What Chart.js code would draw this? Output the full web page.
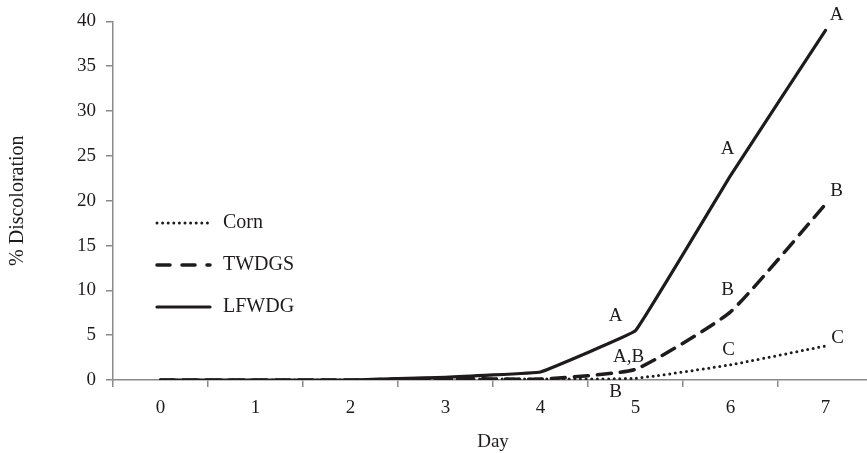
<!DOCTYPE html>
<html>
<head>
<meta charset="utf-8">
<script src="https://cdn.jsdelivr.net/npm/chart.js@4/dist/chart.umd.min.js"></script>
<style>
  html, body { margin: 0; padding: 0; background: #fff; overflow: hidden; }
  #wrap { width: 873px; height: 453px; position: relative; }
</style>
</head>
<body>
<div id="wrap"><canvas id="chart"></canvas></div>
<script>
// data
const days = ['0', '1', '2', '3', '4', '5', '6', '7'];
const corn = [0, 0, 0, 0.1, 0.1, 0.2, 1.7, 3.8];
const twdgs = [0, 0, 0, 0.2, 0.1, 1.2, 7.6, 19.6];
const lfwdg = [0, 0, 0, 0.3, 0.9, 5.5, 22.8, 39];
const cornLetters = [null, null, null, null, null, 'B', 'C', 'C'];
const twdgsLetters = [null, null, null, null, null, 'A,B', 'B', 'B'];
const lfwdgLetters = [null, null, null, null, null, 'A', 'A', 'A'];
const yTicks = [0, 5, 10, 15, 20, 25, 30, 35, 40];

const FONT = "'Liberation Serif', 'DejaVu Serif', serif";
const INK = '#1e1b1c';
const AXIS = '#8a8a8a';

// where each letter sits relative to its point, per dataset
const letterOffsets = [
  { 5: [-20, 14], 6: [-2, -15], 7: [12, -8] },
  { 5: [-7, -12], 6: [-3, -22], 7: [11, -13] },
  { 5: [-20, -15], 6: [-3, -27], 7: [11, -15] }
];

const lettersPlugin = {
  id: 'letters',
  afterDatasetsDraw(chart) {
    const ctx = chart.ctx;
    ctx.save();
    ctx.font = '19px ' + FONT;
    ctx.fillStyle = INK;
    ctx.textAlign = 'center';
    ctx.textBaseline = 'middle';
    chart.data.datasets.forEach((ds, i) => {
      const meta = chart.getDatasetMeta(i);
      ds.letters.forEach((txt, j) => {
        if (!txt) return;
        const pt = meta.data[j];
        const off = letterOffsets[i][j] || [0, -14];
        ctx.fillText(txt, pt.x + off[0], pt.y + off[1]);
      });
    });
    ctx.restore();
  }
};

const legendPlugin = {
  id: 'sideLegend',
  afterDraw(chart) {
    const ctx = chart.ctx;
    const x0 = chart.chartArea.left + 44;
    ctx.save();
    ctx.font = '20px ' + FONT;
    ctx.textBaseline = 'middle';
    chart.data.datasets.forEach((ds, i) => {
      const y = 223 + 42 * i;
      ctx.beginPath();
      ctx.strokeStyle = ds.borderColor;
      ctx.lineWidth = ds.borderWidth;
      ctx.lineCap = ds.borderCapStyle;
      ctx.setLineDash(ds.legendDash);
      ctx.moveTo(x0, y);
      ctx.lineTo(x0 + 53, y);
      ctx.stroke();
      ctx.setLineDash([]);
      ctx.fillStyle = INK;
      ctx.fillText(ds.label, x0 + 66, y);
    });
    ctx.restore();
  }
};

new Chart(document.getElementById('chart'), {
  type: 'line',
  data: {
    labels: days,
    datasets: [
      {
        label: 'Corn',
        data: corn,
        letters: cornLetters,
        borderColor: INK,
        borderWidth: 3,
        borderDash: [0, 5.6],
        legendDash: [0, 5.6],
        borderCapStyle: 'round',
        pointRadius: 0,
        tension: 0.15
      },
      {
        label: 'TWDGS',
        data: twdgs,
        letters: twdgsLetters,
        borderColor: INK,
        borderWidth: 3.5,
        borderDash: [14, 9],
        legendDash: [13, 12],
        borderCapStyle: 'round',
        pointRadius: 0,
        tension: 0.15
      },
      {
        label: 'LFWDG',
        data: lfwdg,
        letters: lfwdgLetters,
        borderColor: INK,
        borderWidth: 3.2,
        borderDash: [],
        legendDash: [],
        borderCapStyle: 'round',
        pointRadius: 0,
        tension: 0.05
      }
    ]
  },
  options: {
    responsive: true,
    maintainAspectRatio: false,
    animation: false,
    layout: { padding: { top: 17, right: 0, bottom: 0, left: 0 } },
    plugins: {
      legend: { display: false },
      tooltip: { enabled: false }
    },
    scales: {
      x: {
        type: 'category',
        offset: true,
        border: { display: true, color: AXIS, width: 1.5 },
        grid: {
          offset: true,
          drawOnChartArea: false,
          drawTicks: true,
          tickLength: 7,
          color: AXIS,
          lineWidth: 1.5
        },
        ticks: {
          color: INK,
          font: { family: FONT, size: 19 },
          padding: 10,
          maxRotation: 0
        },
        title: {
          display: true,
          text: 'Day',
          color: INK,
          font: { family: FONT, size: 19 },
          padding: { top: 10, bottom: 0 }
        },
        afterFit(scale) { scale.height = 73; }
      },
      y: {
        min: 0,
        max: 40,
        afterBuildTicks(scale) {
          scale.ticks = yTicks.map(v => ({ value: v }));
        },
        border: { display: true, color: AXIS, width: 1.5 },
        grid: {
          drawOnChartArea: false,
          drawTicks: true,
          tickLength: 7,
          color: AXIS,
          lineWidth: 1.5
        },
        ticks: {
          color: INK,
          font: { family: FONT, size: 19 },
          padding: 10
        },
        title: {
          display: true,
          text: '% Discoloration',
          color: INK,
          font: { family: FONT, size: 20 },
          padding: { top: 6, bottom: 0 }
        },
        afterFit(scale) { scale.width = 113; }
      }
    }
  },
  plugins: [lettersPlugin, legendPlugin]
});
</script>
</body>
</html>
